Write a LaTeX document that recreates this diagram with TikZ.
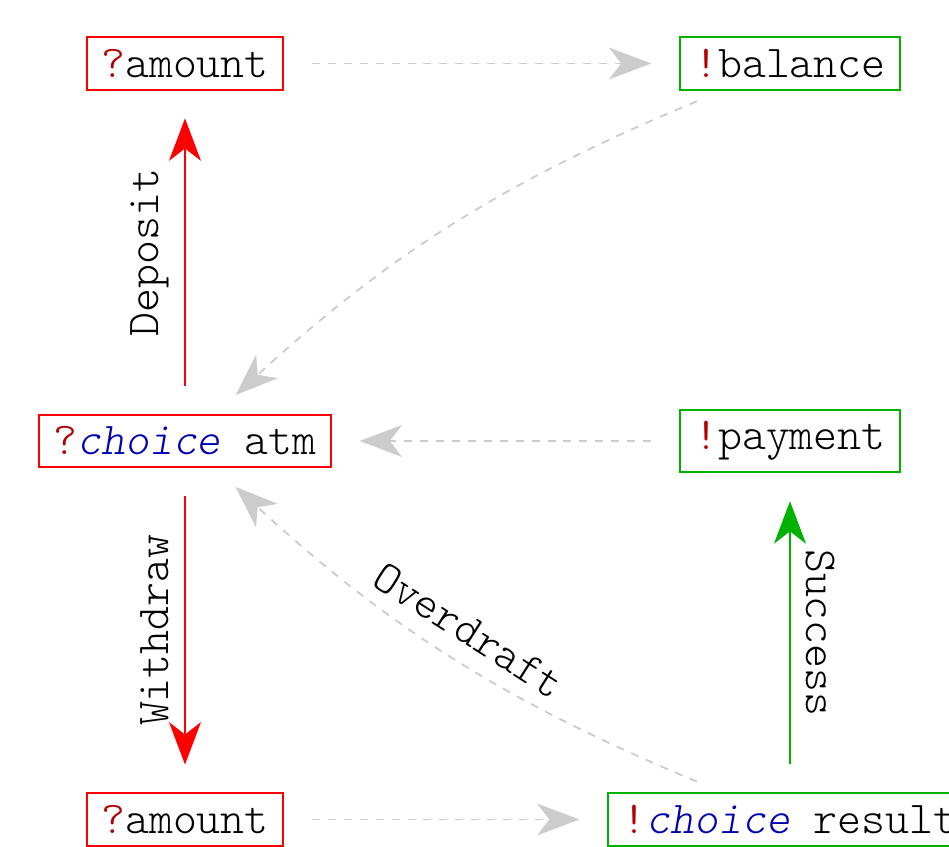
\documentclass[tikz,border=0pt]{standalone}
\usepackage{fontspec}
\setmonofont{Latin Modern Mono Light}
\usetikzlibrary{arrows.meta}
\definecolor{qred}{rgb}{0.7,0,0}
\definecolor{qblue}{rgb}{0,0,0.7}
\definecolor{bgreen}{rgb}{0,0.7,0}
\definecolor{lgray}{gray}{0.8}
\begin{document}
\begin{tikzpicture}[x=0.2193pt,y=-0.2193pt,
  every node/.style={font=\ttfamily},
  inbox/.style={draw=red, inner xsep=3.1pt, inner ysep=2.6pt, line width=0.45pt},
  outbox/.style={draw=bgreen, inner xsep=3.1pt, inner ysep=2.6pt, line width=0.45pt},
  tipst/.style={-{Stealth[length=9.3pt,width=7pt,inset=2.7pt]}, shorten >=6.1pt, shorten <=6.1pt, line width=0.4pt},
  gd/.style={tipst, draw=lgray, dash pattern=on 1.75pt off 1.75pt},
  lbl/.style={inner sep=3.3pt}
  ]
\useasboundingbox (0,0) rectangle (949,847);
\node[inbox] (amt1) at (185,63.5) {\textcolor{qred}{?}amount};
\node[outbox] (bal) at (790,63.5) {\textcolor{qred}{!}balance};
\node[inbox] (atm) at (185,441) {\textcolor{qred}{?}\textcolor{qblue}{\textit{choice}} atm};
\node[outbox] (pay) at (790,441) {\textcolor{qred}{!}payment};
\node[inbox] (amt2) at (185,819.5) {\textcolor{qred}{?}amount};
\node[outbox] (res) at (790,819.5) {\textcolor{qred}{!}\textcolor{qblue}{\textit{choice}} result};
\draw[gd] (amt1) -- (bal);
\draw[gd] (bal) to[bend right=10] (atm);
\draw[gd] (pay) -- (atm);
\draw[gd] (amt2) -- (res);
\draw[gd] (res) to[bend left=10] node[lbl, above, sloped] {Overdraft} (atm);
\draw[tipst, draw=red] (atm) -- node[lbl, rotate=90, anchor=south] {Deposit} (amt1);
\draw[tipst, draw=red] (atm) -- node[lbl, rotate=90, anchor=south] {Withdraw} (amt2);
\draw[tipst, draw=bgreen] (res) -- node[lbl, rotate=-90, anchor=south] {Success} (pay);
\end{tikzpicture}
\end{document}
